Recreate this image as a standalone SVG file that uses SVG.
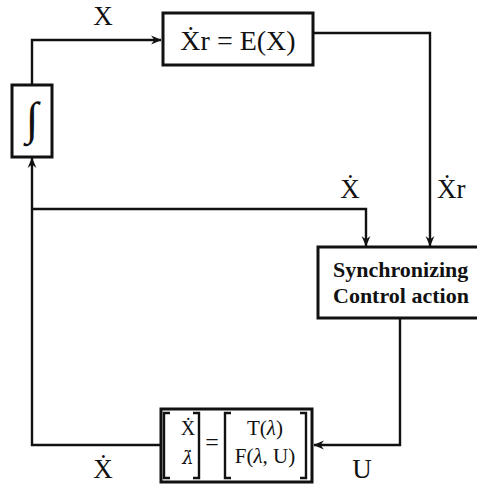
<svg xmlns="http://www.w3.org/2000/svg" width="477" height="485" viewBox="0 0 477 485">
<style>
.box{fill:#fff;stroke:#111;stroke-width:3}
.ln{fill:none;stroke:#111;stroke-width:2.4}
.t{font-family:"Liberation Serif","DejaVu Serif",serif;fill:#111}
.lbl{font-size:27px}
.b{font-family:"Liberation Serif","DejaVu Serif",serif;font-weight:bold;font-size:22px;fill:#111}
</style>
<defs>
<marker id="ah" viewBox="0 0 10 10" markerUnits="userSpaceOnUse" markerWidth="11" markerHeight="11" refX="9" refY="5" orient="auto">
<path d="M0,1 L9.5,5 L0,9 L3,5 Z" fill="#111"/>
</marker>
</defs>
<rect width="477" height="485" fill="#fff"/>
<g id="connectors">
<path class="ln" d="M32,85 V40 H161" marker-end="url(#ah)"/>
<path class="ln" d="M313,33 H430 V246" marker-end="url(#ah)"/>
<path class="ln" d="M32,209 H366 V246" marker-end="url(#ah)"/>
<path class="ln" d="M400,318 V445 H314" marker-end="url(#ah)"/>
<path class="ln" d="M161,445 H32 V158" marker-end="url(#ah)"/>
</g>
<g id="labels">
<text class="t lbl" x="103" y="25" text-anchor="middle">X</text>
<text class="t lbl" x="350" y="198" text-anchor="middle">Ẋ</text>
<text class="t lbl" x="437" y="198">Ẋr</text>
<text class="t lbl" x="103" y="478" text-anchor="middle">Ẋ</text>
<text class="t lbl" x="362" y="478" text-anchor="middle">U</text>
</g>
<g id="node-model">
<rect class="box" x="163" y="13" width="150" height="52"/>
<text class="t" x="238" y="50" font-size="28" text-anchor="middle">Ẋr = E(X)</text>
</g>
<g id="node-integrator">
<rect class="box" x="12" y="85" width="40" height="72"/>
<text class="t" x="32" y="134" font-size="46" text-anchor="middle">∫</text>
</g>
<g id="node-sync">
<rect class="box" x="318" y="247" width="170" height="71"/>
<text class="b" x="333" y="277">Synchronizing</text>
<text class="b" x="333" y="303">Control action</text>
</g>
<g id="node-dynamics">
<rect class="box" x="161" y="409" width="151" height="73" stroke-width="3.8"/>
<path class="ln" d="M170,413 H164 V478 H170 M193,413 H199 V478 H193 M231,413 H225 V478 H231 M300,413 H306 V478 H300" stroke-width="1.8"/>
<text class="t" x="188" y="435" font-size="20" text-anchor="middle">Ẋ</text>
<text x="188" y="464" font-size="18" font-style="italic" text-anchor="middle" font-family="'DejaVu Serif',serif" fill="#111">λ̇</text>
<text class="t" x="212" y="450" font-size="24" text-anchor="middle">=</text>
<text class="t" x="265" y="435" font-size="21" text-anchor="middle">T(<tspan font-style="italic">λ</tspan>)</text>
<text class="t" x="265" y="463" font-size="21" text-anchor="middle">F(<tspan font-style="italic">λ</tspan>, U)</text>
</g>
</svg>
